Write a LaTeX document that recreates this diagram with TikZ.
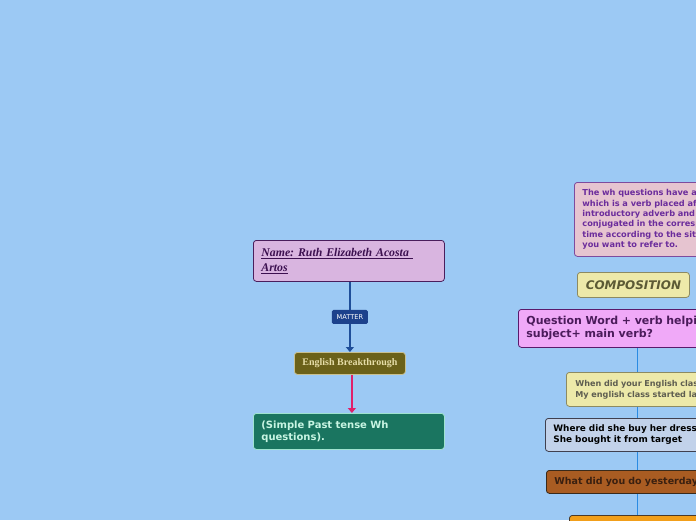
\documentclass[tikz,border=0pt]{standalone}
\usepackage{fontspec}
\setmainfont{Liberation Serif}
\newfontfamily\dvs{DejaVu Sans}
\usetikzlibrary{arrows.meta}
\definecolor{bgc}{HTML}{9CC9F4}
\definecolor{namefill}{HTML}{D9B5E0}
\definecolor{namedraw}{HTML}{4A1E5C}
\definecolor{nametext}{HTML}{3C1050}
\definecolor{matterfill}{HTML}{1C418C}
\definecolor{blueline}{HTML}{1F4E99}
\definecolor{ebfill}{HTML}{6B6119}
\definecolor{ebdraw}{HTML}{C8C090}
\definecolor{ebtext}{HTML}{E6DDA8}
\definecolor{pinkline}{HTML}{E0206A}
\definecolor{spfill}{HTML}{1A7560}
\definecolor{spdraw}{HTML}{9FE3CF}
\definecolor{sptext}{HTML}{C8F5E3}
\definecolor{pbfill}{HTML}{E6C4D0}
\definecolor{pbdraw}{HTML}{7D4B9E}
\definecolor{pbtext}{HTML}{6B2C9C}
\definecolor{yelfill}{HTML}{EDE9A9}
\definecolor{yeldraw}{HTML}{8C8A62}
\definecolor{comptext}{HTML}{5C5A35}
\definecolor{whentext}{HTML}{5E5D50}
\definecolor{qwfill}{HTML}{F0A9F8}
\definecolor{qwdraw}{HTML}{5A1A6B}
\definecolor{qwtext}{HTML}{4B1B5B}
\definecolor{vline}{HTML}{2A8BE3}
\definecolor{wherefill}{HTML}{C2D2EA}
\definecolor{wheredraw}{HTML}{3F404F}
\definecolor{whatfill}{HTML}{A95C22}
\definecolor{whatdraw}{HTML}{3A2A1A}
\definecolor{whattext}{HTML}{3A2010}
\definecolor{orfill}{HTML}{F29F1A}
\definecolor{ordraw}{HTML}{4A3A2A}
\pgfdeclarelayer{bglayer}
\pgfdeclarelayer{linelayer}
\pgfsetlayers{bglayer,linelayer,main}
\tikzset{
  box/.style={rectangle, rounded corners=3pt, line width=0.8pt, anchor=north west,
    align=left, inner xsep=8pt, inner ysep=0pt},
  matterbox/.style={rectangle, rounded corners=1.5pt, fill=matterfill, text=white,
    font=\dvs\fontsize{6.6}{7}\selectfont, inner xsep=3pt, inner ysep=0pt,
    minimum height=14pt, minimum width=36pt},
  tip/.style={-{Triangle[width=8pt,length=5pt]}},
}
\begin{document}
\frenchspacing
\begin{tikzpicture}[x=1pt,y=-1pt]
\useasboundingbox (0,0) rectangle (696,520);
\clip (0,0) rectangle (696,520);
\begin{pgfonlayer}{bglayer}
\fill[bgc] (0,0) rectangle (696,520);
\end{pgfonlayer}

% left branch
\node[box, fill=namefill, draw=namedraw, text=nametext, minimum width=191pt, minimum height=41pt,
  text width=175pt, font=\fontsize{11.8}{15}\selectfont\bfseries\itshape] (name) at (253,240)
  {\underline{Name: Ruth Elizabeth Acosta\ }\\\underline{Artos}};
\node[box, fill=ebfill, draw=ebdraw, text=ebtext, minimum width=111pt, minimum height=22pt,
  inner xsep=0pt, align=center, font=\fontsize{10}{11}\selectfont\bfseries] (eb) at (294,352)
  {English Breakthrough};
\node[box, fill=spfill, draw=spdraw, text=sptext, minimum width=191pt, minimum height=36pt,
  text width=175pt, font=\dvs\fontsize{10}{12}\selectfont\bfseries] (sp) at (253,413)
  {(Simple Past tense Wh\\questions).};

\draw[blueline, line width=1.3pt, tip]
  (name.south -| eb.north) -- node[matterbox] (matter) {MATTER} (eb.north);
\draw[pinkline, line width=1.3pt, tip]
  ([xshift=2pt]eb.south) -- ([xshift=3pt]sp.north);

% right branch
\node[box, fill=pbfill, draw=pbdraw, text=pbtext, minimum width=180pt, minimum height=74pt,
  text width=180pt, font=\dvs\fontsize{8.2}{10.3}\selectfont\bfseries] (pb) at (574,182)
  {The wh questions have an auxiliary\\which is a verb placed after the\\introductory adverb and is\\conjugated in the corresponding\\time according to the situation\\you want to refer to.};
\node[box, fill=yelfill, draw=yeldraw, text=comptext, minimum width=112pt, minimum height=25pt,
  inner xsep=0pt, align=center, font=\dvs\fontsize{11.9}{12}\selectfont\bfseries\itshape] (comp) at (577,272)
  {COMPOSITION};
\node[box, fill=qwfill, draw=qwdraw, text=qwtext, minimum width=240pt, minimum height=38pt,
  text width=240pt, font=\dvs\fontsize{11}{13}\selectfont\bfseries] (qw) at (518,309)
  {Question Word + verb helping +\\subject+ main verb?};
\node[box, fill=yelfill, draw=yeldraw, text=whentext, minimum width=200pt, minimum height=34pt,
  text width=200pt, inner xsep=9pt, font=\dvs\fontsize{8.1}{11}\selectfont\bfseries] (when) at (566,372)
  {When did your English class start?\\My english class started last week};
\node[box, fill=wherefill, draw=wheredraw, text=black, minimum width=200pt, minimum height=33pt,
  text width=200pt, font=\dvs\fontsize{8.9}{11}\selectfont\bfseries] (where) at (545,418)
  {Where did she buy her dress?\\She bought it from target};
\node[box, fill=whatfill, draw=whatdraw, text=whattext, minimum width=200pt, minimum height=23pt,
  text width=200pt, font=\dvs\fontsize{9.5}{11}\selectfont\bfseries] (what) at (546,470)
  {What did you do yesterday?};
\node[box, fill=orfill, draw=ordraw, minimum width=160pt, minimum height=30pt] (orange) at (569,515) {};

\begin{pgfonlayer}{linelayer}
\coordinate (vtop) at (637,347);
\draw[vline, line width=1pt] (vtop) -- (vtop |- orange.north);
\end{pgfonlayer}
\end{tikzpicture}
\end{document}
